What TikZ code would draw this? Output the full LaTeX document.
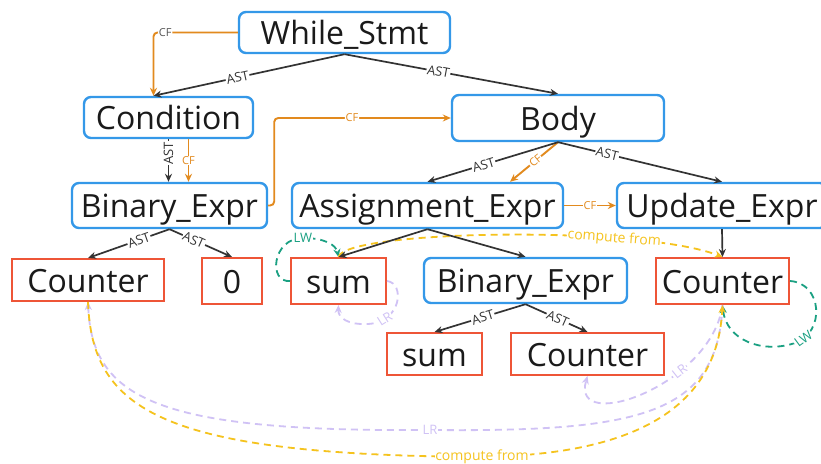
\documentclass[tikz,border=0pt]{standalone}
\usepackage{fontspec}
\setmainfont{Open Sans}
\usetikzlibrary{arrows.meta,calc}

\definecolor{ink}{RGB}{26,26,26}
\definecolor{edgeink}{RGB}{51,51,51}
\definecolor{nodeblue}{RGB}{52,152,232}
\definecolor{leafred}{RGB}{238,85,55}
\definecolor{cforange}{RGB}{226,138,30}
\definecolor{cfgray}{RGB}{85,85,85}
\definecolor{lwteal}{RGB}{26,160,130}
\definecolor{cmpyellow}{RGB}{245,195,30}
\definecolor{lrlilac}{RGB}{208,194,245}

\begin{document}
\begin{tikzpicture}[x=1pt,y=-1pt,
  every node/.style={text=ink},
  treebox/.style={font=\fontsize{32}{36}\selectfont, inner sep=0pt,
    text height=28pt, text depth=4pt},
  inner/.style={treebox, draw=nodeblue, line width=2.4pt, rounded corners=7pt},
  leaf/.style={treebox, draw=leafred, line width=2pt},
  tip/.style={-{Stealth[length=8pt,width=7pt]}},
  ast/.style={draw=edgeink, line width=1.7pt, tip},
  cf/.style={draw=cforange, line width=1.9pt, tip},
  dsh/.style={line width=1.8pt, dash pattern=on 7pt off 5pt, tip},
  lbl/.style={font=\fontsize{13}{13}\selectfont, fill=white, inner sep=0.8pt, text=edgeink},
  slbl/.style={lbl, sloped},
  cflbl/.style={lbl, font=\fontsize{11}{11}\selectfont, text=cforange},
  cmplbl/.style={lbl, font=\fontsize{14}{14}\selectfont, text=cmpyellow, sloped},
]
\clip (0,0) rectangle (821,463);
\fill[white] (0,0) rectangle (821,463);

% tree nodes
\node[inner, minimum width=211pt, minimum height=41pt] (while) at (344.5,32.5) {While\_Stmt};
\node[inner, minimum width=169pt, minimum height=41pt] (cond) at (168.5,117.5) {Condition};
\node[inner, minimum width=212pt, minimum height=46pt] (body) at (558,118) {Body};
\node[inner, minimum width=195pt, minimum height=45pt] (bin1) at (169.5,205.5) {Binary\_Expr};
\node[inner, minimum width=271pt, minimum height=45pt] (assign) at (427.5,205.5) {Assignment\_Expr};
\node[inner, minimum width=210pt, minimum height=45pt] (update) at (722,205.5) {Update\_Expr};
\node[leaf, minimum width=152pt, minimum height=42pt] (counterL) at (88,280) {Counter};
\node[leaf, minimum width=60pt, minimum height=46pt] (zero) at (232,281) {0};
\node[leaf, minimum width=95pt, minimum height=46pt] (sum1) at (338.5,281) {sum};
\node[inner, minimum width=203pt, minimum height=45pt] (bin2) at (525.5,280.5) {Binary\_Expr};
\node[leaf, minimum width=133pt, minimum height=46pt] (counterR) at (722.5,281) {Counter};
\node[leaf, minimum width=95pt, minimum height=42pt] (sum2) at (434.5,354) {sum};
\node[leaf, minimum width=153pt, minimum height=42pt] (counterB) at (587.5,354) {Counter};

% helper points on the Condition and Assignment boxes
\coordinate (condin) at ($(cond.north)+(-15,0)$);
\coordinate (condcf) at ($(cond.south)+(20,0)$);
\coordinate (assigncf) at ($(assign.north)+(82.5,0)$);

% data-flow relations (dashed)
\draw[dsh, draw=lwteal] (sum1.west) .. controls (268,283) and (272,238) .. (303,238)
  node[lbl, text=lwteal] {LW}
  .. controls (325,238) and (336,245) .. (sum1.north);
\draw[dsh, draw=cmpyellow] (sum1.north) .. controls (345,230) and (640,225) ..
  node[cmplbl, pos=0.72] {compute from} (counterR.north);
\draw[dsh, draw=lrlilac] (sum1.east) .. controls (405,283) and (402,322) .. (368,324)
  node[slbl, text=lrlilac, pos=0.8] {LR}
  .. controls (348,325) and (338,318) .. (sum1.south);
\draw[dsh, draw=lwteal] (counterR.east) .. controls (822,283) and (826,332) .. (795,343)
  node[slbl, text=lwteal, pos=0.9] {LW}
  .. controls (762,354) and (726,340) .. (counterR.south);
\draw[dsh, draw=lrlilac] (counterR.south) .. controls (712,385) and (570,435) ..
  node[slbl, text=lrlilac, pos=0.33] {LR} (counterB.south);
\draw[dsh, draw=lrlilac] (counterR.south) .. controls (718,415) and (640,432) .. (430,430)
  node[lbl, text=lrlilac] {LR}
  .. controls (160,432) and (92,400) .. (counterL.south);
\draw[dsh, draw=cmpyellow] (counterL.south) .. controls (92,410) and (160,455) .. (482,457)
  node[cmplbl] {compute from}
  .. controls (590,455) and (716,432) .. (counterR.south);

% control flow
\draw[cf, rounded corners=4pt] (while.west) -| node[cflbl, text=cfgray, pos=0.43] {CF} (condin);
\draw[cf] (condcf) -- node[cflbl] {CF} (condcf |- bin1.north);
\draw[cf, rounded corners=4pt] (bin1.east) -- ++(6,0) |- node[cflbl, pos=0.72] {CF} (body.west);
\draw[cf] (body.south) -- node[cflbl, sloped, pos=0.47] {CF} (assigncf);
\draw[cf] (assign.east) -- node[cflbl] {CF} (update.west);

% syntax tree edges
\draw[ast] (while.south) -- node[slbl, pos=0.56] {AST} (condin);
\draw[ast] (while.south) -- node[slbl, pos=0.44] {AST} (body.north);
\draw[ast] (cond.south) -- node[lbl, rotate=90, pos=0.33] {AST} (cond.south |- bin1.north);
\draw[ast] (body.south) -- node[slbl, pos=0.57] {AST} (assign.north);
\draw[ast] (body.south) -- node[slbl, pos=0.3] {AST} (update.north);
\draw[ast] (bin1.south) -- node[slbl, pos=0.375] {AST} (counterL.north);
\draw[ast] (bin1.south) -- node[slbl, pos=0.39] {AST} (zero.north);
\draw[ast] (assign.south) -- (sum1.north);
\draw[ast] (assign.south) -- (bin2.north);
\draw[ast] (update.south) -- (counterR.north);
\draw[ast] (bin2.south) -- node[slbl, pos=0.47] {AST} (sum2.north);
\draw[ast] (bin2.south) -- node[slbl, pos=0.52] {AST} (counterB.north);
\end{tikzpicture}
\end{document}
